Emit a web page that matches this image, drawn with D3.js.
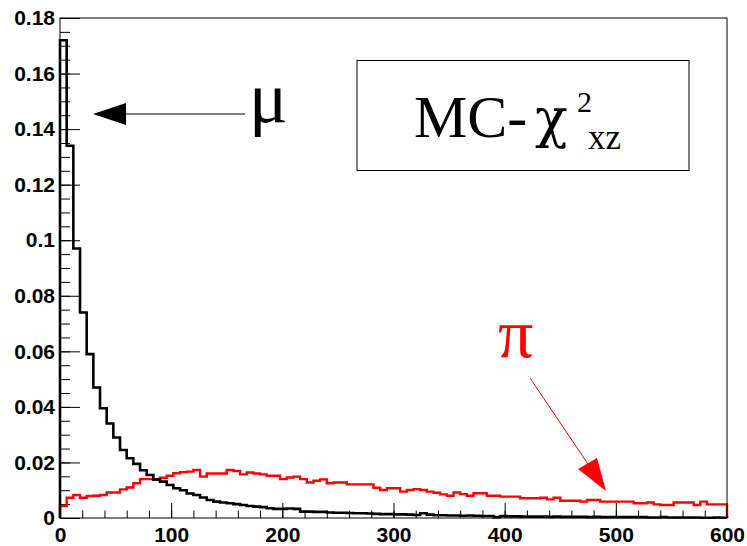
<!DOCTYPE html>
<html lang="en">
<head>
    <meta charset="UTF-8">
    <script src="https://d3js.org/d3.v7.min.js"></script>
    <style>
        body { margin: 0; background: #fff; }
        .tick text { font: bold 21px "Liberation Sans", Arial, sans-serif; fill: #000; }
        .tick line { stroke: #000; stroke-width: 1; }
        .serif { font-family: "Liberation Serif", "Times New Roman", serif; }
        .greek { font-family: "DejaVu Serif", serif; }
    </style>
    <title>MC chi2 xz</title>
</head>
<body>
    <script>
        // chart size
        const width = 747;
        const height = 546;
        const margin = { top: 18, right: 20, bottom: 28, left: 60 };

        // 100 bins of width 6 from 0 to 600
        const binWidth = 6;
        const binEdges = d3.range(0, 600, binWidth);

        // mu (black) bin contents
        const muValues = [
            0.172, 0.134, 0.097, 0.074, 0.059, 0.047, 0.0395, 0.034, 0.029, 0.0245,
            0.0215, 0.0195, 0.0172, 0.0155, 0.0138, 0.0131, 0.0119, 0.0107, 0.0100, 0.0088,
            0.0083, 0.0074, 0.0065, 0.0059, 0.0056, 0.0053, 0.0050, 0.0047, 0.0043, 0.0041,
            0.0039, 0.0035, 0.0033, 0.0033, 0.0034, 0.0033, 0.0023, 0.0023, 0.0022, 0.0022,
            0.0020, 0.0019, 0.0019, 0.0018, 0.0017, 0.0017, 0.0016, 0.0015, 0.0014, 0.0014,
            0.0013, 0.0013, 0.0012, 0.0011, 0.0017, 0.0012, 0.0010, 0.0010, 0.0009, 0.0009,
            0.0008, 0.0009, 0.0008, 0.0007, 0.0007, 0.0003, 0.0007, 0.0006, 0.0006, 0.0005,
            0.0005, 0.0005, 0.0005, 0.0004, 0.0005, 0.0004, 0.0004, 0.0004, 0.0004, 0.0003,
            0.0004, 0.0003, 0.0003, 0.0003, 0.0003, 0.0003, 0.0003, 0.0003, 0.0002, 0.0002,
            0.0003, 0.0002, 0.0002, 0.0002, 0.0002, 0.0002, 0.0001, 0.0001, 0.0002, 0.0001
        ];

        // pi (red) bin contents
        const piValues = [
            0.0043, 0.0073, 0.0083, 0.0073, 0.0079, 0.0080, 0.0083, 0.0092, 0.0092, 0.0103,
            0.0110, 0.0125, 0.0140, 0.0140, 0.0140, 0.0145, 0.0152, 0.0161, 0.0165, 0.0167,
            0.0173, 0.0149, 0.0160, 0.0160, 0.0160, 0.0173, 0.0169, 0.0157, 0.0164, 0.0160,
            0.0157, 0.0152, 0.0152, 0.0140, 0.0146, 0.0149, 0.0140, 0.0128, 0.0134, 0.0139,
            0.0125, 0.0128, 0.0128, 0.0121, 0.0121, 0.0121, 0.0121, 0.0109, 0.0101, 0.0107,
            0.0107, 0.0095, 0.0101, 0.0104, 0.0101, 0.0095, 0.0091, 0.0085, 0.0080, 0.0092,
            0.0086, 0.0080, 0.0089, 0.0089, 0.0080, 0.0080, 0.0077, 0.0077, 0.0077, 0.0071,
            0.0071, 0.0071, 0.0073, 0.0067, 0.0073, 0.0062, 0.0062, 0.0062, 0.0059, 0.0065,
            0.0065, 0.0059, 0.0059, 0.0059, 0.0059, 0.0059, 0.0053, 0.0053, 0.0056, 0.0049,
            0.0047, 0.0047, 0.0056, 0.0056, 0.0056, 0.0047, 0.0059, 0.0049, 0.0049, 0.0049
        ];

        // tick labels
        const xTicks = [0, 100, 200, 300, 400, 500, 600];
        const yTicks = [0, 0.02, 0.04, 0.06, 0.08, 0.1, 0.12, 0.14, 0.16, 0.18];
        const xMinor = d3.range(0, 601, 20);
        const yMinor = d3.range(0, 0.1801, 0.005);

        const svg = d3.select("body")
            .append("svg")
            .attr("width", width)
            .attr("height", height);

        const x = d3.scaleLinear()
            .domain([0, 600])
            .range([margin.left, width - margin.right]);

        const y = d3.scaleLinear()
            .domain([0, 0.18])
            .range([height - margin.bottom, margin.top]);

        const plotW = x(600) - x(0);
        const plotH = y(0) - y(0.18);

        // minor ticks (no labels)
        svg.append("g")
            .attr("transform", `translate(0,${y(0)})`)
            .call(d3.axisBottom(x).tickValues(xMinor).tickSize(-plotH * 0.015).tickFormat(""))
            .call(g => g.select(".domain").remove());
        svg.append("g")
            .attr("transform", `translate(${x(0)},0)`)
            .call(d3.axisLeft(y).tickValues(yMinor).tickSize(-plotW * 0.015).tickFormat(""))
            .call(g => g.select(".domain").remove());

        // major ticks with labels
        svg.append("g")
            .attr("transform", `translate(0,${y(0)})`)
            .call(d3.axisBottom(x).tickValues(xTicks).tickSize(-plotH * 0.03).tickPadding(9).tickFormat(d3.format("d")))
            .call(g => g.select(".domain").remove());
        svg.append("g")
            .attr("transform", `translate(${x(0)},0)`)
            .call(d3.axisLeft(y).tickValues(yTicks).tickSize(-plotW * 0.03).tickPadding(5)
                .tickFormat(d => d === 0 ? "0" : String(+d.toFixed(2))))
            .call(g => g.select(".domain").remove());

        // histogram outline as a step path
        function histPoints(values) {
            const pts = [[0, 0]];
            values.forEach((v, i) => {
                pts.push([binEdges[i], v]);
                pts.push([binEdges[i] + binWidth, v]);
            });
            pts.push([600, 0]);
            return pts;
        }
        const line = d3.line().x(d => x(d[0])).y(d => y(d[1]));

        svg.append("path")
            .attr("d", line(histPoints(piValues)))
            .attr("fill", "none")
            .attr("stroke", "#ff0000")
            .attr("stroke-width", 2.4);

        svg.append("path")
            .attr("d", line(histPoints(muValues)))
            .attr("fill", "none")
            .attr("stroke", "#000")
            .attr("stroke-width", 2.6);

        // frame
        svg.append("rect")
            .attr("x", x(0))
            .attr("y", y(0.18))
            .attr("width", plotW)
            .attr("height", plotH)
            .attr("fill", "none")
            .attr("stroke", "#000")
            .attr("stroke-width", 1);

        // mu arrow
        svg.append("line")
            .attr("x1", 245).attr("y1", 114)
            .attr("x2", 124).attr("y2", 114)
            .attr("stroke", "#000").attr("stroke-width", 1);
        svg.append("polygon")
            .attr("points", "93,114 126,103 126,125")
            .attr("fill", "#000");
        svg.append("text")
            .attr("class", "serif")
            .attr("x", 249).attr("y", 122)
            .attr("font-size", 72)
            .text("μ");

        // pi arrow
        svg.append("line")
            .attr("x1", 530).attr("y1", 378)
            .attr("x2", 590).attr("y2", 467)
            .attr("stroke", "#ff0000").attr("stroke-width", 1);
        svg.append("polygon")
            .attr("points", "606,491 578,469 597,458")
            .attr("fill", "#ff0000");
        svg.append("text")
            .attr("class", "serif")
            .attr("x", 498).attr("y", 357)
            .attr("font-size", 70)
            .attr("fill", "#ff0000")
            .text("π");

        // title box
        svg.append("rect")
            .attr("x", 357).attr("y", 60.5)
            .attr("width", 332).attr("height", 110)
            .attr("fill", "#fff")
            .attr("stroke", "#000")
            .attr("stroke-width", 1);
        const title = svg.append("g").attr("class", "serif");
        title.append("text").attr("x", 414).attr("y", 137).attr("font-size", 60).text("MC-");
        title.append("text").attr("class", "greek").attr("x", 535).attr("y", 137).attr("font-size", 54).text("χ");
        title.append("text").attr("x", 577).attr("y", 112).attr("font-size", 30).text("2");
        title.append("text").attr("x", 588).attr("y", 149).attr("font-size", 35).text("xz");
    </script>
</body>
</html>
